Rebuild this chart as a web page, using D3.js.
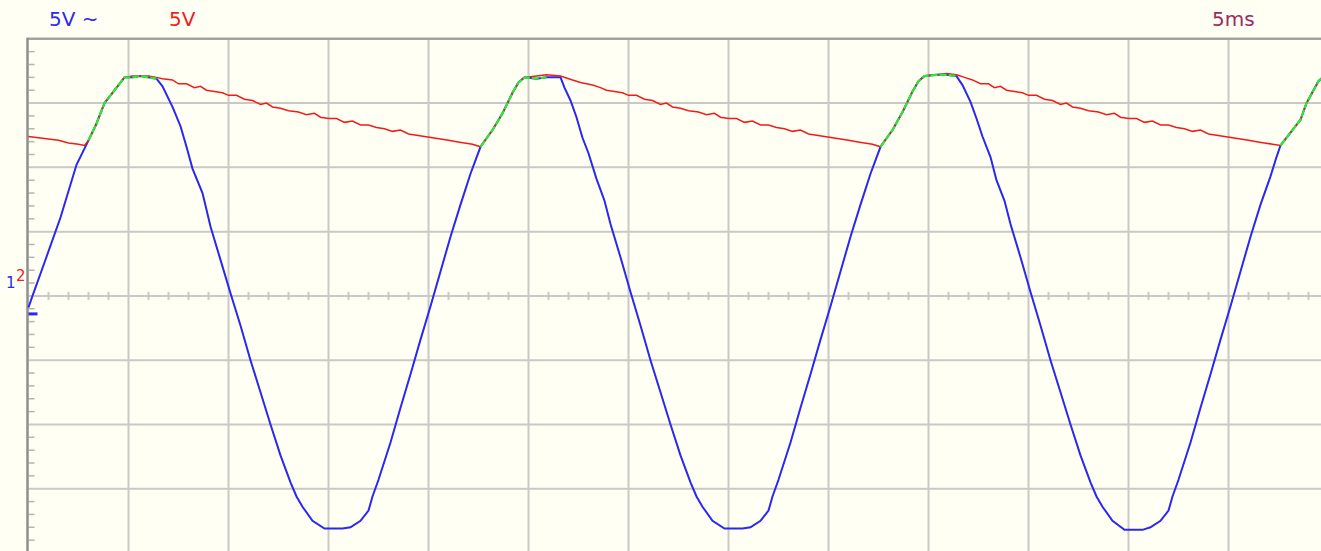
<!DOCTYPE html>
<html>
<head>
<meta charset="utf-8">
<script src="https://cdn.jsdelivr.net/npm/d3@7"></script>
<style>
  html, body { margin: 0; padding: 0; background: #fffff4; overflow: hidden; }
  text { font-family: "DejaVu Sans", "Liberation Sans", sans-serif; }
</style>
</head>
<body>
<svg id="scope" width="1321" height="551"></svg>
<script>
// Channel 1 (blue), time in ms, value in V
const blueTrace = [
  [0.0, -0.9], [0.2, 0.0], [0.8, 2.6], [1.6, 6.1], [2.4, 10.2], [3.0, 12.1], [3.4, 13.4], [3.8, 15.0],
  [4.2, 15.8], [4.6, 16.6], [4.8, 17.0], [5.2, 17.0], [5.6, 17.1], [6.0, 17.0], [6.4, 16.9], [6.7, 16.3],
  [7.2, 14.7], [7.6, 13.2], [7.9, 11.6], [8.2, 9.9], [8.7, 8.0], [9.1, 5.4], [9.6, 2.8],
  [10.1, 0.2], [10.6, -2.3], [11.1, -5.0], [11.6, -7.5], [12.1, -10.0], [12.6, -12.4], [13.1, -14.5],
  [13.4, -15.6], [13.7, -16.4], [14.2, -17.5], [14.8, -18.1], [15.7, -18.1], [16.1, -18.0], [16.6, -17.5],
  [17.0, -16.7], [17.2, -15.6], [17.5, -14.3], [18.1, -11.4], [18.6, -8.7], [19.1, -6.1], [19.6, -3.4],
  [20.1, -0.8], [20.6, 1.9], [21.1, 4.6], [21.6, 7.1], [22.1, 9.5], [22.6, 11.6],
  [23.2, 12.9], [23.7, 14.2], [24.2, 15.8], [24.5, 16.6], [24.8, 17.0], [25.4, 16.9], [25.9, 17.0],
  [26.6, 17.0], [26.8, 16.2], [27.1, 15.2], [27.4, 13.9], [27.7, 12.3], [28.0, 11.1], [28.4, 9.1],
  [28.8, 7.4], [29.1, 5.6], [29.6, 3.0], [30.1, 0.3], [30.6, -2.3], [31.1, -5.0], [31.6, -7.5],
  [32.1, -10.0], [32.6, -12.4], [33.1, -14.5], [33.4, -15.6], [33.7, -16.4], [34.2, -17.5], [34.8, -18.1],
  [35.7, -18.1], [36.1, -18.0], [36.6, -17.5], [37.0, -16.7], [37.2, -15.6], [37.5, -14.3], [38.1, -11.4],
  [38.6, -8.7], [39.1, -6.1], [39.6, -3.4], [40.1, -0.8], [40.6, 1.9], [41.1, 4.6], [41.6, 7.1],
  [42.1, 9.5], [42.6, 11.6],
  [43.2, 12.9], [43.7, 14.3], [44.2, 15.9], [44.5, 16.7], [44.8, 17.1], [45.4, 17.2], [45.9, 17.2],
  [46.4, 17.1], [46.7, 16.4], [47.1, 15.1], [47.4, 13.8], [47.7, 12.4], [48.1, 10.8], [48.4, 9.0],
  [48.8, 7.4], [49.1, 5.6], [49.6, 3.0], [50.1, 0.3], [50.6, -2.3], [51.1, -5.0], [51.6, -7.5],
  [52.1, -10.0], [52.6, -12.4], [53.1, -14.5], [53.4, -15.6], [53.7, -16.4], [54.2, -17.5], [54.8, -18.2],
  [55.7, -18.2], [56.1, -18.0], [56.6, -17.5], [57.0, -16.7], [57.2, -15.6], [57.5, -14.3], [58.1, -11.4],
  [58.6, -8.7], [59.1, -6.1], [59.6, -3.4], [60.1, -0.8], [60.6, 1.9], [61.1, 4.6], [61.6, 7.1],
  [62.1, 9.3], [62.4, 10.8], [62.6, 11.7], [63.0, 12.5], [63.6, 13.7], [63.9, 15.0], [64.5, 16.7], [64.7, 17.0],
];

// Channel 2 (red), time in ms, value in V
const redTrace = [
  [0.0, 12.4], [0.5, 12.3], [1.0, 12.2], [1.5, 12.1], [2.0, 11.9], [2.5, 11.8], [2.8, 11.7], [3.0, 12.1],
  [3.4, 13.4], [3.8, 15.0], [4.2, 15.8], [4.6, 16.6], [4.8, 17.0], [5.2, 17.1], [5.6, 17.1], [6.0, 17.1],
  [6.4, 17.0], [6.7, 16.9], [7.2, 16.8], [7.5, 16.5], [7.9, 16.5], [8.3, 16.2], [8.6, 16.3], [8.9, 16.0],
  [9.3, 15.9], [9.7, 15.8], [10.0, 15.6], [10.4, 15.6], [10.8, 15.3], [11.2, 15.2], [11.6, 14.9],
  [11.9, 15.0], [12.2, 14.7], [12.6, 14.6], [13.0, 14.4], [13.5, 14.3], [13.9, 14.1], [14.3, 14.2],
  [14.6, 13.9], [15.0, 13.8], [15.4, 13.8], [15.8, 13.5], [16.2, 13.6], [16.6, 13.3], [17.0, 13.3],
  [17.4, 13.1], [17.8, 13.0], [18.2, 12.8], [18.6, 12.9], [19.0, 12.6], [19.4, 12.5], [19.8, 12.4],
  [20.2, 12.3], [20.6, 12.2], [21.0, 12.1], [21.4, 12.0], [21.8, 11.9], [22.2, 11.8], [22.6, 11.6],
  [23.2, 12.9], [23.7, 14.2], [24.2, 15.8], [24.5, 16.6], [24.8, 17.0], [25.4, 17.1], [25.9, 17.2],
  [26.6, 17.1], [27.2, 16.8], [27.6, 16.6], [28.2, 16.4], [28.6, 16.2], [28.9, 16.0], [29.3, 15.9],
  [29.7, 15.8], [30.0, 15.6], [30.4, 15.6], [30.8, 15.3], [31.2, 15.2], [31.6, 14.9], [31.9, 15.0],
  [32.2, 14.7], [32.6, 14.6], [33.0, 14.4], [33.5, 14.3], [33.9, 14.1], [34.3, 14.2], [34.6, 13.9],
  [35.0, 13.8], [35.4, 13.8], [35.8, 13.5], [36.2, 13.6], [36.6, 13.3], [37.0, 13.3], [37.4, 13.1],
  [37.8, 13.0], [38.2, 12.8], [38.6, 12.9], [39.0, 12.6], [39.4, 12.5], [39.8, 12.4], [40.2, 12.3],
  [40.6, 12.2], [41.0, 12.1], [41.4, 12.0], [41.8, 11.9], [42.2, 11.8], [42.6, 11.6],
  [43.2, 12.9], [43.7, 14.3], [44.2, 15.9], [44.5, 16.7], [44.8, 17.1], [45.4, 17.2], [45.9, 17.3],
  [46.4, 17.2], [46.8, 17.0], [47.2, 16.8], [47.6, 16.5], [48.0, 16.5], [48.3, 16.2], [48.6, 16.3],
  [48.9, 16.0], [49.3, 15.9], [49.7, 15.8], [50.0, 15.6], [50.4, 15.6], [50.8, 15.3], [51.2, 15.2],
  [51.6, 14.9], [51.9, 15.0], [52.2, 14.7], [52.6, 14.6], [53.0, 14.4], [53.5, 14.3], [53.9, 14.1],
  [54.3, 14.2], [54.6, 13.9], [55.0, 13.8], [55.4, 13.8], [55.8, 13.5], [56.2, 13.6], [56.6, 13.3],
  [57.0, 13.3], [57.4, 13.1], [57.8, 13.0], [58.2, 12.8], [58.6, 12.9], [59.0, 12.6], [59.4, 12.5],
  [59.8, 12.4], [60.2, 12.3], [60.6, 12.2], [61.0, 12.1], [61.4, 12.0], [61.8, 11.9], [62.2, 11.8],
  [62.6, 11.7], [63.0, 12.5], [63.6, 13.7], [63.9, 15.0], [64.5, 16.7], [64.7, 17.0],
];

// Stretches (ms) where both channels sit on top of each other
const overlapWindows = [[2.8, 6.4], [22.6, 26.4], [42.6, 46.4], [62.6, 64.7]];

const channelLabels = [
  { text: '5V ~', color: '#2a2af0', x: 49 },
  { text: '5V', color: '#ee1c1c', x: 169 },
  { text: '5ms', color: '#9c2a62', x: 1212 },
];

const W = 1321;
const H = 551;
const svg = d3.select('#scope');

// 5 ms / div over 100 px, 5 V / div over ~64.3 px
const x = d3.scaleLinear().domain([0, 65]).range([28.5, 1328.5]);
const y = d3.scaleLinear().domain([-20, 20]).range([553, 38.8]);

svg.append('rect')
  .attr('width', W)
  .attr('height', H)
  .attr('fill', '#fffff4');

const grid = svg.append('g').attr('class', 'grid');

grid.selectAll('.vgrid')
  .data(d3.range(5, 65, 5))
  .enter().append('line')
    .attr('class', 'vgrid')
    .attr('x1', (d) => x(d)).attr('x2', (d) => x(d))
    .attr('y1', y(20)).attr('y2', H)
    .attr('stroke', '#c9c9c6')
    .attr('stroke-width', 2);

grid.selectAll('.hgrid')
  .data(y.ticks(8).filter((d) => d > -20 && d < 20))
  .enter().append('line')
    .attr('class', 'hgrid')
    .attr('x1', x(0)).attr('x2', W)
    .attr('y1', (d) => y(d)).attr('y2', (d) => y(d))
    .attr('stroke', '#c9c9c6')
    .attr('stroke-width', 2);

// Minor ticks on the centre line, 1 ms apart
grid.selectAll('.xminor')
  .data(d3.range(1, 65, 1).filter((d) => d % 5 !== 0))
  .enter().append('line')
    .attr('class', 'xminor')
    .attr('x1', (d) => x(d)).attr('x2', (d) => x(d))
    .attr('y1', y(0) - 4).attr('y2', y(0) + 4)
    .attr('stroke', '#c9c9c6')
    .attr('stroke-width', 2);

// Minor ticks along the left border, 1 V apart
grid.selectAll('.yminor')
  .data(d3.range(-19, 20, 1).filter((d) => d % 5 !== 0))
  .enter().append('line')
    .attr('class', 'yminor')
    .attr('x1', x(0)).attr('x2', x(0) + 6)
    .attr('y1', (d) => y(d)).attr('y2', (d) => y(d))
    .attr('stroke', '#b4b4b0')
    .attr('stroke-width', 1.5);

// Frame: top and left borders
svg.append('line')
  .attr('x1', x(0) - 1).attr('x2', W)
  .attr('y1', y(20)).attr('y2', y(20))
  .attr('stroke', '#a3a3a0')
  .attr('stroke-width', 2.5);

svg.append('line')
  .attr('x1', x(0) - 1).attr('x2', x(0) - 1)
  .attr('y1', y(20) - 1).attr('y2', H)
  .attr('stroke', '#8f8f8c')
  .attr('stroke-width', 2.5);

const line = d3.line()
  .x((d) => x(d[0]))
  .y((d) => y(d[1]));

svg.append('path')
  .attr('class', 'trace-blue')
  .attr('d', line(blueTrace))
  .attr('fill', 'none')
  .attr('stroke', '#2828f2')
  .attr('stroke-width', 2);

svg.append('path')
  .attr('class', 'trace-red')
  .attr('d', line(redTrace))
  .attr('fill', 'none')
  .attr('stroke', '#f01c1c')
  .attr('stroke-width', 1.5);

// Coincident stretches show up green with the channel colours peeking through
svg.selectAll('.trace-both')
  .data(overlapWindows.map(([a, b]) => blueTrace.filter((d) => d[0] >= a && d[0] <= b)))
  .enter().append('path')
    .attr('class', 'trace-both')
    .attr('d', line)
    .attr('fill', 'none')
    .attr('stroke', '#22ee33')
    .attr('stroke-width', 2.2)
    .attr('stroke-dasharray', '7,2');

// Channel ground marker and numbers
svg.append('line')
  .attr('x1', x(0)).attr('x2', x(0) + 9)
  .attr('y1', y(-1.4)).attr('y2', y(-1.4))
  .attr('stroke', '#2828f2')
  .attr('stroke-width', 3);

svg.append('text')
  .attr('x', 6).attr('y', 288)
  .attr('font-size', 15)
  .attr('fill', '#2a2af0')
  .text('1');

svg.append('text')
  .attr('x', 16).attr('y', 281)
  .attr('font-size', 15)
  .attr('fill', '#ee1c1c')
  .text('2');

svg.selectAll('.chan-label')
  .data(channelLabels)
  .enter().append('text')
    .attr('class', 'chan-label')
    .attr('x', (d) => d.x)
    .attr('y', 26)
    .attr('font-size', 20)
    .attr('fill', (d) => d.color)
    .text((d) => d.text);
</script>
</body>
</html>
